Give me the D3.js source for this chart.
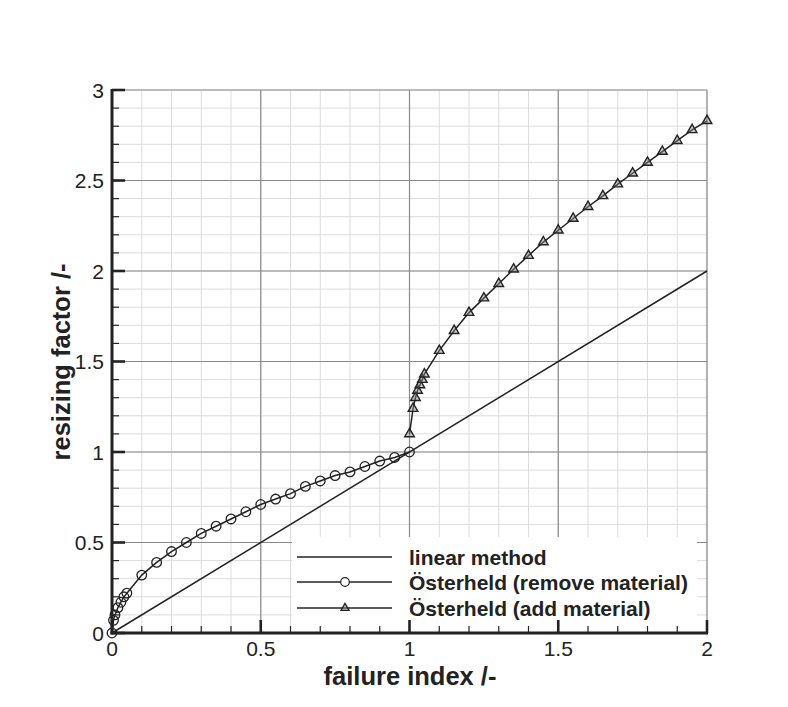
<!DOCTYPE html>
<html><head><meta charset="utf-8">
<script src="https://cdn.jsdelivr.net/npm/d3@7/dist/d3.min.js"></script>
<style>body{margin:0;background:#fff}svg{display:block}</style>
</head><body>
<script>
// ---- data ----
const linearX = [0, 2];
const linearY = [0, 2];
const removeX = [0, 0.005, 0.01, 0.02, 0.03, 0.04, 0.05, 0.1, 0.15, 0.2, 0.25, 0.3, 0.35, 0.4, 0.45, 0.5, 0.55, 0.6, 0.65, 0.7, 0.75, 0.8, 0.85, 0.9, 0.95, 1.0];
const removeY = [0, 0.07, 0.1, 0.14, 0.17, 0.2, 0.22, 0.32, 0.39, 0.45, 0.5, 0.55, 0.59, 0.63, 0.67, 0.71, 0.74, 0.77, 0.81, 0.84, 0.87, 0.89, 0.92, 0.95, 0.97, 1.0];
const addX = [1.0, 1.012, 1.02, 1.027, 1.035, 1.043, 1.05, 1.1, 1.15, 1.2, 1.25, 1.3, 1.35, 1.4, 1.45, 1.5, 1.55, 1.6, 1.65, 1.7, 1.75, 1.8, 1.85, 1.9, 1.95, 2.0];
const addY = [1.1, 1.24, 1.3, 1.34, 1.37, 1.4, 1.43, 1.56, 1.67, 1.77, 1.85, 1.93, 2.01, 2.085, 2.16, 2.225, 2.29, 2.355, 2.415, 2.48, 2.54, 2.6, 2.66, 2.72, 2.78, 2.83];
const xTicks = [0, 0.5, 1, 1.5, 2];
const xTickLabels = ["0", "0.5", "1", "1.5", "2"];
const yTicks = [0, 0.5, 1, 1.5, 2, 2.5, 3];
const yTickLabels = ["0", "0.5", "1", "1.5", "2", "2.5", "3"];
const legendLabels = ["linear method", "Österheld (remove material)", "Österheld (add material)"];
const xTitle = "failure index /-";
const yTitle = "resizing factor /-";

// ---- chart ----
const W = 788, H = 707;
const svg = d3.select("body").append("svg").attr("width", W).attr("height", H);
const x = d3.scaleLinear().domain([0, 2]).range([112, 707]);
const y = d3.scaleLinear().domain([0, 3]).range([633, 90]);
const font = "'Liberation Sans', Arial, Helvetica, sans-serif";
const ink = "#222";

const minorX = d3.range(0, 2.0001, 0.1);
const minorY = d3.range(0, 3.0001, 0.1);
const g = svg.append("g");
// minor grid
g.selectAll(".mgx").data(minorX).join("line")
  .attr("x1", d => x(d)).attr("x2", d => x(d)).attr("y1", y(0)).attr("y2", y(3))
  .attr("stroke", "#dcdcdc").attr("stroke-width", 1);
g.selectAll(".mgy").data(minorY).join("line")
  .attr("y1", d => y(d)).attr("y2", d => y(d)).attr("x1", x(0)).attr("x2", x(2))
  .attr("stroke", "#dcdcdc").attr("stroke-width", 1);
// major grid
g.selectAll(".Mgx").data(xTicks).join("line")
  .attr("x1", d => x(d)).attr("x2", d => x(d)).attr("y1", y(0)).attr("y2", y(3))
  .attr("stroke", "#8a8a8a").attr("stroke-width", 1.2);
g.selectAll(".Mgy").data(yTicks).join("line")
  .attr("y1", d => y(d)).attr("y2", d => y(d)).attr("x1", x(0)).attr("x2", x(2))
  .attr("stroke", "#8a8a8a").attr("stroke-width", 1.2);

// legend background
svg.append("rect").attr("x", 292).attr("y", 537).attr("width", 405).attr("height", 91).attr("fill", "#fff");

// series
const line = d3.line().x(d => x(d[0])).y(d => y(d[1]));
const linData = d3.zip(linearX, linearY);
const remData = d3.zip(removeX, removeY);
const addData = d3.zip(addX, addY);
[linData, remData, addData].forEach(dat => {
  svg.append("path").datum(dat).attr("d", line).attr("fill", "none")
    .attr("stroke", ink).attr("stroke-width", 1.5);
});
const tri = d3.symbol().type(d3.symbolTriangle).size(40);
svg.selectAll(".circ").data(remData).join("circle")
  .attr("cx", d => x(d[0])).attr("cy", d => y(d[1])).attr("r", 4.8)
  .attr("fill", "none").attr("stroke", ink).attr("stroke-width", 1.3);
svg.selectAll(".tri").data(addData).join("path")
  .attr("d", tri).attr("transform", d => `translate(${x(d[0])},${y(d[1])})`)
  .attr("fill", "#888").attr("fill-opacity", 0.45).attr("stroke", ink).attr("stroke-width", 1.4);

// axes (custom, inward ticks)
const ax = svg.append("g");
ax.selectAll(".tmx").data(minorX).join("line")
  .attr("x1", d => x(d)).attr("x2", d => x(d)).attr("y1", y(0)).attr("y2", y(0) - 7)
  .attr("stroke", ink).attr("stroke-width", 1.2);
ax.selectAll(".tMx").data(xTicks).join("line")
  .attr("x1", d => x(d)).attr("x2", d => x(d)).attr("y1", y(0)).attr("y2", y(0) - 13)
  .attr("stroke", ink).attr("stroke-width", 2.6);
ax.selectAll(".tmy").data(minorY).join("line")
  .attr("y1", d => y(d)).attr("y2", d => y(d)).attr("x1", x(0)).attr("x2", x(0) + 7)
  .attr("stroke", ink).attr("stroke-width", 1.2);
ax.selectAll(".tMy").data(yTicks).join("line")
  .attr("y1", d => y(d)).attr("y2", d => y(d)).attr("x1", x(0)).attr("x2", x(0) + 13)
  .attr("stroke", ink).attr("stroke-width", 2.6);
ax.append("line").attr("x1", x(0) - 1.5).attr("x2", x(2) + 1).attr("y1", y(0)).attr("y2", y(0))
  .attr("stroke", ink).attr("stroke-width", 3);
ax.append("line").attr("x1", x(0)).attr("x2", x(0)).attr("y1", y(0) + 1.5).attr("y2", y(3) - 1)
  .attr("stroke", ink).attr("stroke-width", 3);

// tick labels
svg.selectAll(".xl").data(xTicks).join("text")
  .attr("x", d => x(d)).attr("y", 656).attr("text-anchor", "middle")
  .attr("font-family", font).attr("font-size", 21).attr("fill", ink)
  .text((d, i) => xTickLabels[i]);
svg.selectAll(".yl").data(yTicks).join("text")
  .attr("x", 104).attr("y", d => y(d) + 7.5).attr("text-anchor", "end")
  .attr("font-family", font).attr("font-size", 21).attr("fill", ink)
  .text((d, i) => yTickLabels[i]);

// titles
svg.append("text").attr("x", 410).attr("y", 685).attr("text-anchor", "middle")
  .attr("font-family", font).attr("font-weight", "bold").attr("font-size", 25.5).attr("fill", ink)
  .text(xTitle);
svg.append("text").attr("transform", "translate(70,362) rotate(-90)").attr("text-anchor", "middle")
  .attr("font-family", font).attr("font-weight", "bold").attr("font-size", 25.5).attr("fill", ink)
  .text(yTitle);

// legend
const ly = [557, 582, 608];
const lg = svg.append("g");
legendLabels.forEach((lab, i) => {
  lg.append("line").attr("x1", 297).attr("x2", 392).attr("y1", ly[i]).attr("y2", ly[i])
    .attr("stroke", ink).attr("stroke-width", 1.5);
  if (i === 1) lg.append("circle").attr("cx", 345).attr("cy", ly[i]).attr("r", 4.3)
    .attr("fill", "#fff").attr("stroke", ink).attr("stroke-width", 1.2);
  if (i === 2) lg.append("path").attr("d", d3.symbol().type(d3.symbolTriangle).size(28)())
    .attr("transform", `translate(345,${ly[i]})`)
    .attr("fill", "#888").attr("fill-opacity", 0.45).attr("stroke", ink).attr("stroke-width", 1.3);
  lg.append("text").attr("x", 409).attr("y", ly[i] + 7.5)
    .attr("font-family", font).attr("font-weight", "bold").attr("font-size", 21).attr("fill", ink)
    .text(lab);
});
</script>
</body></html>
